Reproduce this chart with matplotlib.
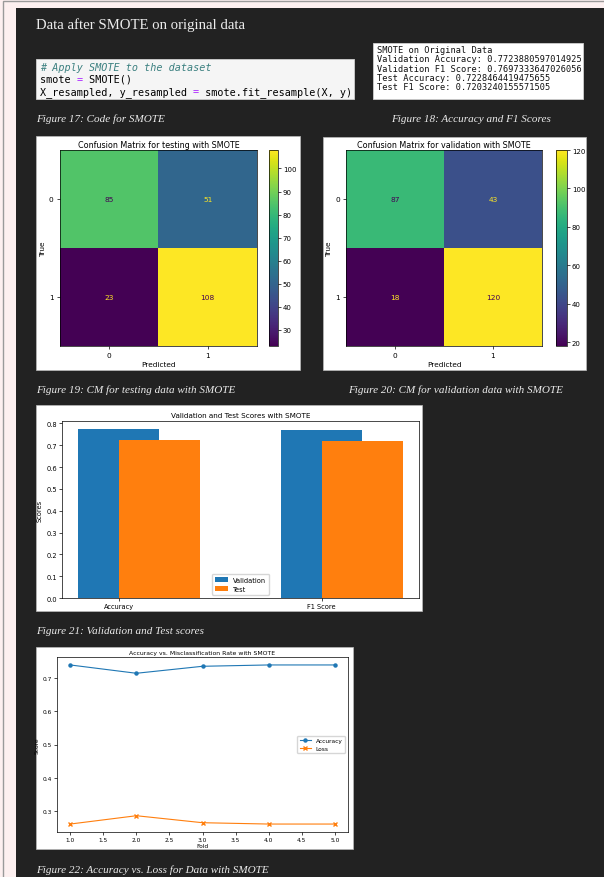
import matplotlib
matplotlib.use('Agg')
import matplotlib.pyplot as plt
import numpy as np
from matplotlib.patches import Rectangle

# values
cm_test = [[85, 51], [23, 108]]
cm_val = [[87, 43], [18, 120]]
cm_labels = ['0', '1']

score_names = ['Accuracy', 'F1 Score']
val_scores = [0.7723880597014925, 0.7697333647026056]
test_scores = [0.7228464419475655, 0.7203240155571505]

folds = [1, 2, 3, 4, 5]
fold_acc = [0.739, 0.714, 0.735, 0.739, 0.739]
fold_loss = [0.261, 0.286, 0.265, 0.261, 0.261]

code_lines = [
    [('# Apply SMOTE to the dataset', '#3b8080', 'italic')],
    [('smote ', 'black', 'normal'), ('=', '#aa22ff', 'normal'), (' SMOTE()', 'black', 'normal')],
    [('X_resampled, y_resampled ', 'black', 'normal'), ('=', '#aa22ff', 'normal'),
     (' smote.fit_resample(X, y)', 'black', 'normal')],
]
out_lines = [
    'SMOTE on Original Data',
    'Validation Accuracy: 0.7723880597014925',
    'Validation F1 Score: 0.7697333647026056',
    'Test Accuracy: 0.7228464419475655',
    'Test F1 Score: 0.7203240155571505',
]

W, H = 604, 878
fig = plt.figure(figsize=(W / 100, H / 100), dpi=100)
fig.patch.set_facecolor('#fdf0f0')


def frac(x0, y0, x1, y1):
    return [x0 / W, 1 - y1 / H, (x1 - x0) / W, (y1 - y0) / H]


def rect(x0, y0, x1, y1, fc, ec='none', lw=0.8, z=-10):
    r = Rectangle((x0 / W, 1 - y1 / H), (x1 - x0) / W, (y1 - y0) / H,
                  transform=fig.transFigure, fc=fc, ec=ec, lw=lw, zorder=z)
    fig.add_artist(r)


def ftext(x, y, s, **kw):
    fig.text(x / W, 1 - y / H, s, va='baseline', **kw)


# page frame and dark panel
rect(3, 2, 640, 900, 'none', ec='#9a9a9a', lw=1.0, z=-12)
rect(16, 9, 640, 900, '#222222', z=-11)

serif = 'Liberation Serif'
ftext(36, 29, 'Data after SMOTE on original data', family=serif, size=10.6, color='#ececec')

# code cell
rect(36, 60, 354, 100, '#f5f5f5', ec='#cfcfcf', lw=0.6)
mono_size = 7.3
cw = 0.602 * mono_size * 100 / 72
for i, parts in enumerate(code_lines):
    col = 0
    for s, c, st in parts:
        ftext(40 + col * cw, 71 + i * 12, s, family='DejaVu Sans Mono', size=mono_size,
              color=c, style=st)
        col += len(s)

# printed output
rect(373, 44, 583, 100, 'white', ec='#cfcfcf', lw=0.6)
for i, s in enumerate(out_lines):
    ftext(377, 53 + i * 9.3, s, family='DejaVu Sans Mono', size=6.25, color='#111111')

cap = dict(family=serif, style='italic', size=8.0, color='#ececec')
ftext(36, 122, 'Figure 17: Code for SMOTE', **cap)
ftext(391, 122, 'Figure 18: Accuracy and F1 Scores', **cap)
ftext(36, 393, 'Figure 19: CM for testing data with SMOTE', **cap)
ftext(348, 393, 'Figure 20: CM for validation data with SMOTE', **cap)
ftext(36, 634, 'Figure 21: Validation and Test scores', **cap)
ftext(36, 873, 'Figure 22: Accuracy vs. Loss for Data with SMOTE', **cap)

viridis = plt.get_cmap('viridis')


def conf_matrix(cm, ax_box, cax_box, title):
    cm = np.array(cm)
    ax = fig.add_axes(frac(*ax_box))
    cax = fig.add_axes(frac(*cax_box))
    im = ax.imshow(cm, cmap='viridis', aspect='auto')
    thresh = (cm.max() + cm.min()) / 2
    for i in range(2):
        for j in range(2):
            c = viridis(0) if cm[i, j] > thresh else viridis(1.0)
            ax.text(j, i, str(cm[i, j]), ha='center', va='center', color=c, fontsize=5.3)
    ax.set_xticks([0, 1], cm_labels)
    ax.set_yticks([0, 1], cm_labels)
    ax.set_xlabel('Predicted', fontsize=5.3, labelpad=2)
    ax.set_ylabel('True', fontsize=5.3, labelpad=2)
    ax.set_title(title, fontsize=5.8, pad=2)
    ax.tick_params(labelsize=5.3, length=2.5, width=0.5, pad=2)
    for sp in ax.spines.values():
        sp.set_linewidth(0.5)
    cb = fig.colorbar(im, cax=cax)
    cb.ax.tick_params(labelsize=5.0, length=2, width=0.5, pad=1.5)
    cb.outline.set_linewidth(0.5)


rect(36, 137, 300, 371, 'white', ec='#bbbbbb', lw=0.5)
conf_matrix(cm_test, (60, 151, 257, 347), (269, 151, 278, 347), 'Confusion Matrix for testing with SMOTE')
rect(323, 138, 586, 371, 'white', ec='#bbbbbb', lw=0.5)
conf_matrix(cm_val, (346, 151, 542, 347), (556, 151, 567, 347), 'Confusion Matrix for validation with SMOTE')

# bar chart
rect(36, 406, 422, 612, 'white', ec='#bbbbbb', lw=0.5)
ax = fig.add_axes(frac(62, 422, 419, 599))
x = np.arange(len(score_names))
w = 0.4
ax.bar(x, val_scores, w, label='Validation', color='#1f77b4')
ax.bar(x + w / 2, test_scores, w, label='Test', color='#ff7f0e')
ax.set_xticks(x, score_names)
ax.set_ylabel('Scores', fontsize=4.8, labelpad=3)
ax.set_title('Validation and Test Scores with SMOTE', fontsize=5.2, pad=3)
ax.tick_params(labelsize=4.8, length=2, width=0.5, pad=1.5)
ax.legend(loc='lower center', fontsize=4.8)
for sp in ax.spines.values():
    sp.set_linewidth(0.5)

# accuracy / loss per fold
rect(36, 648, 353, 850, 'white', ec='#bbbbbb', lw=0.5)
ax = fig.add_axes(frac(57, 658, 348, 833))
ax.plot(folds, fold_acc, marker='o', ms=2.2, lw=0.8, label='Accuracy')
ax.plot(folds, fold_loss, marker='x', ms=2.2, lw=0.8, label='Loss')
ax.set_xlabel('Fold', fontsize=4.2, labelpad=1)
ax.set_ylabel('Score', fontsize=4.2, labelpad=2)
ax.set_title('Accuracy vs. Misclassification Rate with SMOTE', fontsize=4.4, pad=2)
ax.tick_params(labelsize=4.2, length=2, width=0.5, pad=1.5)
ax.legend(loc='center right', fontsize=4.2)
for sp in ax.spines.values():
    sp.set_linewidth(0.5)

fig.savefig('out.png', dpi=100)
